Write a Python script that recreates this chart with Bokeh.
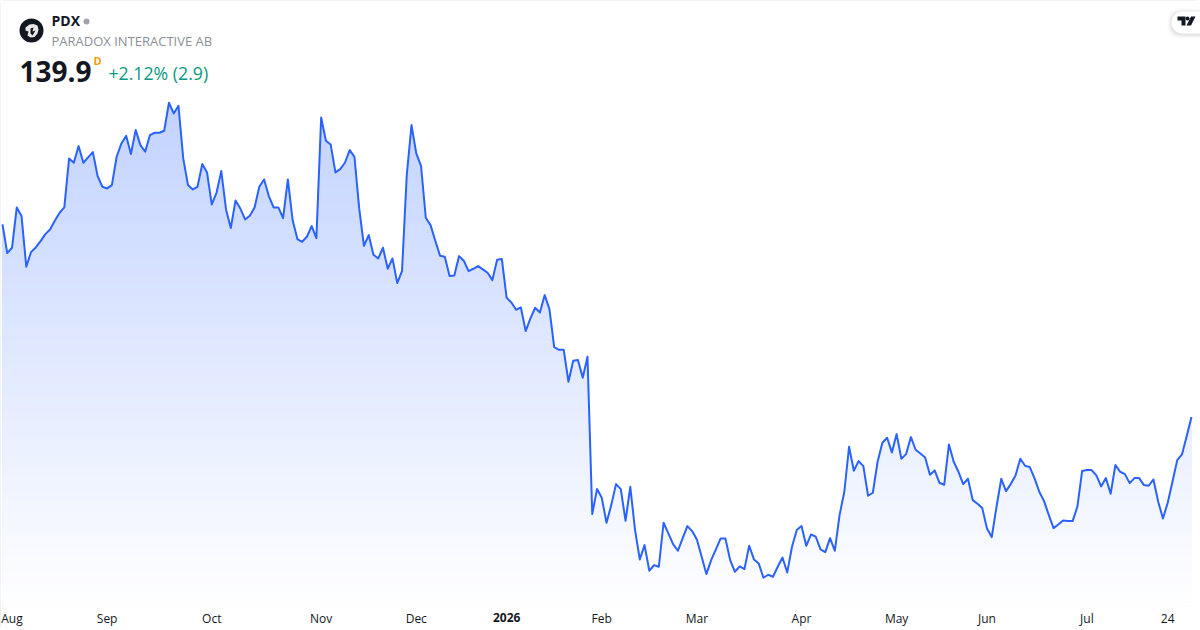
from bokeh.plotting import figure
from bokeh.embed import file_html
from bokeh.resources import INLINE
from bokeh.models import Range1d, Label, BoxAnnotation, PolyAnnotation, FixedTicker, LinearAxis
import numpy as np

symbol = "PDX"
company = "PARADOX INTERACTIVE AB"
last_price = "139.9"
interval = "D"
change = "+2.12% (2.9)"

prices = [
168.8,164.5,165.3,171.35,170.05,162.45,164.65,165.35,166.3,167.35,168.05,169.35,170.55,171.35,178.7,178.05,180.55,178.05,178.85,179.65,
176.05,174.45,174.2,174.7,178.95,180.95,182.1,179.35,182.95,180.7,179.7,182.2,182.55,182.55,182.85,187.05,185.45,186.6,178.7,174.7,
174.05,174.45,177.85,176.6,171.8,173.55,176.8,171.05,168.25,172.4,171.2,169.55,170.1,171.35,174.45,175.55,173.05,171.35,171.35,169.75,
175.55,169.45,166.6,166.2,166.95,168.55,166.75,184.85,181.35,180.8,176.6,177.1,178.05,179.95,178.95,171.2,165.6,167.2,164.25,163.7,
165.3,162.15,163.7,160.0,161.8,176.2,183.7,179.45,177.6,169.8,168.7,166.35,164.1,163.95,161.05,161.15,164.05,163.35,161.8,162.15,
162.55,162.05,161.55,160.45,163.5,163.6,157.8,157.1,156.0,156.35,152.8,154.7,156.3,155.6,158.2,156.1,150.4,150.0,150.0,145.2,
148.35,148.45,145.8,148.95,125.35,129.1,127.8,124.05,126.7,129.85,129.1,124.35,129.45,122.95,118.55,120.7,116.85,117.7,117.45,124.05,
122.45,120.85,119.85,121.7,123.55,122.8,121.55,118.95,116.35,118.45,120.05,121.7,121.7,118.45,116.7,117.5,117.1,120.6,118.55,117.95,
115.8,116.25,115.95,117.45,118.85,116.6,120.45,122.95,123.55,120.6,122.3,121.95,120.05,119.65,121.75,119.85,125.2,128.7,135.45,131.85,
133.3,132.55,128.1,128.55,133.2,136.05,136.8,134.6,137.35,133.65,134.35,136.9,135.0,134.45,133.85,131.25,131.9,130.05,129.75,135.8,
133.2,131.7,129.85,130.65,127.45,126.9,126.25,123.2,121.9,126.45,130.65,128.8,129.85,131.15,133.65,132.6,132.4,130.7,128.7,127.3,
125.2,123.25,123.8,124.4,124.3,124.3,126.45,131.8,131.95,131.95,131.15,129.5,130.75,128.4,132.7,131.7,131.35,130.0,130.75,130.75,
129.7,129.6,130.55,127.2,124.7,127.05,130.2,133.45,134.3,137.05,139.9]

tick_index = [2, 22, 44, 67, 87, 106, 126, 146, 168, 188, 207, 228, 245]
tick_labels = ["Aug", "Sep", "Oct", "Nov", "Dec", "2026", "Feb", "Mar", "Apr", "May", "Jun", "Jul", "24"]

W, H = 1200, 630
BOTTOM = 24
FH = H - BOTTOM
TEXT = "#131722"
FONT = "Open Sans"

idx = np.arange(len(prices), dtype=float)
vals = np.array(prices)
step = (len(prices) - 1) / 1189.0

p = figure(width=W, height=H, output_backend="svg", toolbar_location=None,
           x_range=Range1d(-2 * step, (W - 2) * step),
           y_range=Range1d(139.9 + (416.6 - FH) * 0.15, 139.9 + 416.6 * 0.15),
           min_border=0, min_border_left=0, min_border_right=0, min_border_top=0,
           min_border_bottom=BOTTOM, background_fill_color="white", border_fill_color="white",
           outline_line_color=None,
           styles={"outline": "1px solid #e6e8ec", "outline-offset": "-1px", "border-radius": "5px"})
p.grid.visible = False
p.yaxis.visible = False

fine_x = np.linspace(idx[0], idx[-1], 4001)
fine_y = np.interp(fine_x, idx, vals)
top_val, base_val = float(vals.max()), p.y_range.start
levels = np.linspace(top_val, base_val, 71)[:-1]
for lv in levels:
    t = (top_val - lv) / (top_val - base_val)
    a = 0.28 * (1 - t)
    col = "#%02x%02x%02x" % (round(255 - 214 * a), round(255 - 157 * a), 255)
    p.varea(fine_x, np.full_like(fine_x, base_val), np.minimum(fine_y, lv), fill_color=col, fill_alpha=1)

p.line(idx, vals, line_color="#2962FF", line_width=2, line_join="round")


def style_axis(ax, bold=False, standoff=3):
    ax.axis_line_color = None
    ax.major_tick_line_color = None
    ax.minor_tick_line_color = None
    ax.major_tick_in = 0
    ax.major_tick_out = 0
    ax.major_label_standoff = standoff
    ax.major_label_text_font = FONT
    ax.major_label_text_font_size = "12px"
    ax.major_label_text_color = TEXT
    ax.major_label_text_font_style = "bold" if bold else "normal"


ax = p.xaxis[0]
ax.ticker = FixedTicker(ticks=tick_index)
ax.major_label_overrides = {i: ("" if s == "2026" else s) for i, s in zip(tick_index, tick_labels)}
style_axis(ax)

# the year tick is bold: its own axis, pulled up onto the same row
i2026 = tick_labels.index("2026")
year_axis = LinearAxis(ticker=FixedTicker(ticks=[tick_index[i2026]]),
                       major_label_overrides={tick_index[i2026]: tick_labels[i2026]})
style_axis(year_axis, bold=True, standoff=-17)
p.add_layout(year_axis, "below")


def up(y):
    return FH - y


def scr(x, y, w, h, **kw):
    kw.setdefault("line_color", None)
    return BoxAnnotation(left=x, right=x + w, top=up(y), bottom=up(y + h), left_units="screen", right_units="screen",
                         top_units="screen", bottom_units="screen", level="overlay", **kw)


def poly(pts, color):
    return PolyAnnotation(xs=[a for a, b in pts], ys=[up(b) for a, b in pts], xs_units="screen", ys_units="screen",
                          fill_color=color, fill_alpha=1, line_color=None, level="overlay")


def txt(x, y, s, size, color, bold=False):
    p.add_layout(Label(x=x, y=up(y), x_units="screen", y_units="screen", text=s, text_font=FONT, text_font_size=size,
                       text_color=color, text_font_style="bold" if bold else "normal", text_baseline="alphabetic",
                       level="overlay"))


# header
p.add_layout(scr(19, 18, 24, 24, fill_color="#131722", fill_alpha=1, border_radius=12))
p.add_layout(poly([(25, 27), (29, 24), (33, 23.5), (37, 25), (38, 29), (37, 33), (34, 36.5), (30, 37), (27, 35), (28, 31), (25, 30)], "#e8e8e8"))
p.add_layout(poly([(30, 28), (33, 27), (32, 31), (35, 30), (32, 35), (30, 33)], "#131722"))
txt(51, 20, symbol, "14px", TEXT, True)
p.add_layout(scr(83, 18, 6, 6, fill_color="#a0a3ab", fill_alpha=1, border_radius=3))
txt(51, 40, company, "13px", "#8c8f97")
txt(19, 71, last_price, "28px", TEXT, True)
txt(93, 60, interval, "11px", "#ff9800", True)
txt(108, 72, change, "17.7px", "#089981")

# logo pill
for g, al in ((4, 0.015), (3, 0.02), (2, 0.03), (1, 0.04)):
    p.add_layout(scr(1171 - g, 11 - g + 1, 40, 22 + 2 * g, fill_color="#000000", fill_alpha=al, border_radius=11))
p.add_layout(scr(1171, 11, 40, 22, fill_color="white", fill_alpha=1, border_radius=11))
p.add_layout(poly([(1177, 16), (1185, 16), (1185, 25), (1181, 25), (1181, 20), (1177, 20)], "#131722"))
p.add_layout(scr(1185, 16, 4, 4, fill_color="#131722", fill_alpha=1, border_radius=2))
p.add_layout(poly([(1190.5, 16), (1195, 16), (1190.5, 25), (1186, 25)], "#131722"))

open("out.html", "w").write(file_html(p, INLINE))
